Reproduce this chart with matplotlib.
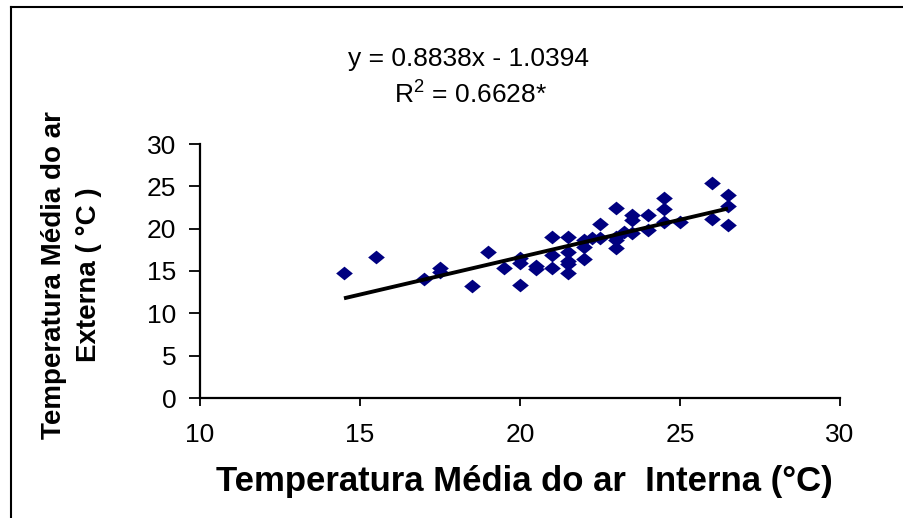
import numpy as np
import matplotlib
matplotlib.use("Agg")
import matplotlib.pyplot as plt
from matplotlib.lines import Line2D

plt.rcParams['font.family'] = ['Liberation Sans', 'DejaVu Sans']
plt.rcParams['mathtext.fontset'] = 'custom'
plt.rcParams['mathtext.rm'] = 'Liberation Sans'

# temperatura interna (x) e externa (y)
t_int = [14.5, 15.5, 17, 17.5, 17.5, 18.5, 19, 19.5, 20, 20, 20,
         20.5, 20.5, 21, 21, 21, 21.5, 21.5, 21.5, 21.5, 21.5,
         22, 22, 22, 22.25, 22.5, 22.5, 23, 23, 23, 23, 23.25,
         23.5, 23.5, 23.5, 24, 24, 24.5, 24.5, 24.5, 25,
         26, 26, 26.5, 26.5, 26.5]
t_ext = [14.8, 16.6, 14.1, 15.3, 14.9, 13.2, 17.2, 15.4, 13.3, 16.5, 16.0,
         15.6, 15.2, 19.05, 16.9, 15.4, 19.05, 17.3, 16.2, 15.8, 14.8,
         18.7, 17.8, 16.4, 18.9, 20.6, 18.9, 22.4, 19.0, 18.7, 17.7, 19.6,
         21.6, 21.0, 19.5, 21.6, 19.9, 23.6, 22.3, 20.8, 20.8,
         25.4, 21.2, 24.0, 22.7, 20.4]

a = 0.8838
b = -1.0394
r2 = 0.6628

x_ticks = [10, 15, 20, 25, 30]
y_ticks = [0, 5, 10, 15, 20, 25, 30]

W, H = 904, 518
fig = plt.figure(figsize=(W/100, H/100), dpi=100)
ax = fig.add_axes([200/W, 1-398/H, 640/W, 254/H])

# losango um pouco mais largo que alto
losango = [(-1, 0), (0, 0.82), (1, 0), (0, -0.82), (-1, 0)]
ax.scatter(t_int, t_ext, marker=losango, s=145, color='#000080', zorder=3, linewidths=0)
xl = np.array([min(t_int), max(t_int)])
ax.plot(xl, a*xl + b, color='black', lw=2.8, zorder=4, solid_capstyle='butt')

ax.set_xlim(10, 30)
ax.set_ylim(0, 30)
ax.set_xticks(x_ticks)
ax.set_yticks(y_ticks)
ax.tick_params(labelsize=19, width=1.3, direction='out')
ax.tick_params(axis='y', length=8, pad=9)
ax.tick_params(axis='x', length=6, pad=12)
for s in ['top', 'right']:
    ax.spines[s].set_visible(False)
for s in ['left', 'bottom']:
    ax.spines[s].set_linewidth(1.6)

ax.set_xlabel('Temperatura Média do ar  Interna (°C)', fontsize=25, fontweight='bold')
ax.xaxis.label.set_va('center')
ax.xaxis.set_label_coords((524-200)/640, (398-482)/254)

ax.set_ylabel('Temperatura Média do ar\nExterna ( °C )', fontsize=20, fontweight='bold',
              linespacing=1.45)
ax.yaxis.label.set_va('center')
ax.yaxis.set_label_coords((72-200)/640, (398-275)/254)

fig.text(469/W, 1-59/H, f'y = {a}x - {abs(b)}', ha='center', va='center', fontsize=19)
fig.text(470/W, 1-94/H, f'R$^2$ = {r2}*', ha='center', va='center', fontsize=19)

# moldura
fig.add_artist(Line2D([11/W, 11/W], [0, 1-7/H], transform=fig.transFigure, color='black', lw=1.5))
fig.add_artist(Line2D([11/W, 1], [1-7/H, 1-7/H], transform=fig.transFigure, color='black', lw=1.5))

fig.savefig('out.png', dpi=100)
